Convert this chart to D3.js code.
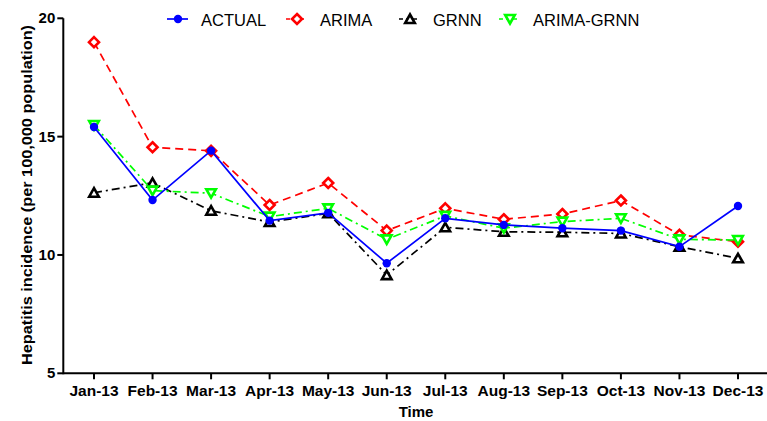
<!DOCTYPE html>
<html><head><meta charset="utf-8">
<script src="https://cdn.jsdelivr.net/npm/d3@7"></script>
<style>body{margin:0;background:#fff}svg{display:block}text{font-family:"Liberation Sans",Arial,sans-serif}</style>
</head><body><svg id="c" width="767" height="421"></svg>
<script>
const months = ["Jan-13","Feb-13","Mar-13","Apr-13","May-13","Jun-13","Jul-13","Aug-13","Sep-13","Oct-13","Nov-13","Dec-13"];
const actual    = [15.41,12.32,14.41,11.45,11.78,9.65,11.55,11.27,11.13,11.03,10.35,12.07];
const arima     = [18.99,14.55,14.40,12.11,13.04,11.03,11.97,11.51,11.73,12.30,10.85,10.56];
const grnn      = [12.63,13.05,11.87,11.39,11.76,9.15,11.17,10.98,10.96,10.91,10.35,9.86];
const arimaGrnn = [15.49,12.72,12.61,11.62,11.97,10.66,11.65,11.13,11.41,11.55,10.66,10.63];
const yTicks = [5,10,15,20];
const seriesNames = ["ACTUAL","ARIMA","GRNN","ARIMA-GRNN"];

const svg = d3.select("#c");
const x = d3.scalePoint().domain(months).range([94,738]);
const y = d3.scaleLinear().domain([5,20]).range([373.3,18.3]);

// axes
const xAxis = svg.append("g").attr("transform","translate(0,373.3)");
xAxis.append("line").attr("x1",63.3).attr("x2",767).attr("stroke","#000").attr("stroke-width",2);
xAxis.selectAll("line.t").data(months).join("line").attr("class","t")
  .attr("x1",d=>x(d)).attr("x2",d=>x(d)).attr("y1",0).attr("y2",6).attr("stroke","#000").attr("stroke-width",2);
xAxis.selectAll("text").data(months).join("text")
  .attr("x",d=>x(d)).attr("y",22.7).attr("text-anchor","middle")
  .attr("font-weight","bold").attr("font-size",15.5).text(d=>d);

const yAxis = svg.append("g").attr("transform","translate(63.3,0)");
yAxis.append("line").attr("y1",y(20)).attr("y2",y(5)+1).attr("stroke","#000").attr("stroke-width",2);
yAxis.selectAll("line.t").data(yTicks).join("line").attr("class","t")
  .attr("x1",-6).attr("x2",0).attr("y1",d=>y(d)).attr("y2",d=>y(d)).attr("stroke","#000").attr("stroke-width",2);
yAxis.selectAll("text").data(yTicks).join("text")
  .attr("x",-8).attr("y",d=>y(d)+5).attr("text-anchor","end")
  .attr("font-weight","bold").attr("font-size",15).text(d=>d);

svg.append("text").attr("transform","translate(31.5,195) rotate(-90)")
  .attr("text-anchor","middle").attr("font-weight","bold").attr("font-size",15.5)
  .attr("textLength",340).attr("lengthAdjust","spacingAndGlyphs")
  .text("Hepatitis incidence (per 100,000 population)");
svg.append("text").attr("x",x("Jun-13")+(x("Jul-13")-x("Jun-13"))/2).attr("y",417).attr("text-anchor","middle")
  .attr("font-weight","bold").attr("font-size",15).text("Time");

const series = [
  {name:"ARIMA", vals:arima, color:"#ff0000", dash:"8,5", marker:"diamond"},
  {name:"GRNN", vals:grnn, color:"#000000", dash:"8,4,2,4", marker:"tri"},
  {name:"ARIMA-GRNN", vals:arimaGrnn, color:"#00ff00", dash:"8,4,2,4", marker:"itri"},
  {name:"ACTUAL", vals:actual, color:"#0000ff", dash:null, marker:"circle"}
];
const line = d3.line().x((d,i)=>x(months[i])).y(d=>y(d));

function drawMarker(g, type, color, cx, cy){
  if(type==="circle"){
    g.append("circle").attr("cx",cx).attr("cy",cy).attr("r",4.2).attr("fill",color);
  } else if(type==="diamond"){
    g.append("path").attr("d",`M${cx},${cy-5}L${cx+5},${cy}L${cx},${cy+5}L${cx-5},${cy}Z`)
      .attr("fill","#fff").attr("stroke",color).attr("stroke-width",2.6);
  } else if(type==="tri"){
    g.append("path").attr("d",`M${cx},${cy-4.5}L${cx+4.8},${cy+4}L${cx-4.8},${cy+4}Z`)
      .attr("fill","#fff").attr("stroke",color).attr("stroke-width",2.6);
  } else {
    g.append("path").attr("d",`M${cx},${cy+4.5}L${cx+4.8},${cy-4}L${cx-4.8},${cy-4}Z`)
      .attr("fill","#fff").attr("stroke",color).attr("stroke-width",2.6);
  }
}

series.forEach(s=>{
  const g = svg.append("g");
  g.append("path").datum(s.vals).attr("d",line).attr("fill","none")
    .attr("stroke",s.color).attr("stroke-width",1.7).attr("stroke-dasharray",s.dash);
  s.vals.forEach((v,i)=>drawMarker(g,s.marker,s.color,x(months[i]),y(v)));
});

// legend
const legendPos = {"ACTUAL":167,"ARIMA":286,"GRNN":399,"ARIMA-GRNN":499};
const byName = Object.fromEntries(series.map(s=>[s.name,s]));
seriesNames.forEach(n=>{
  const s = byName[n]; const lx = legendPos[n]; const ly = 19;
  const g = svg.append("g");
  g.append("line").attr("x1",lx).attr("x2",lx+21).attr("y1",ly).attr("y2",ly)
    .attr("stroke",s.color).attr("stroke-width",1.7).attr("stroke-dasharray",s.dash?"4,3":null);
  drawMarker(g,s.marker,s.color,lx+11,ly);
  g.append("text").attr("x",lx+34).attr("y",ly+6.5).attr("font-size",16.5).text(n);
});
</script></body></html>
